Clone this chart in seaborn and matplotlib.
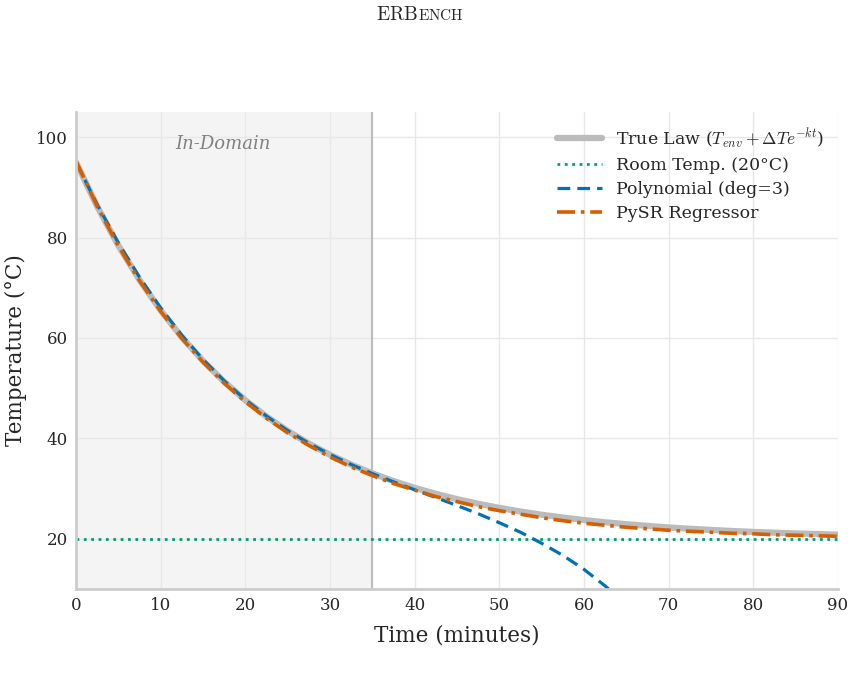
import pandas as pd
import seaborn as sns
import matplotlib
matplotlib.use("Agg")
import matplotlib.pyplot as plt

# 시간 축 (분), 2.5분 간격
time_min = [0, 2.5, 5, 7.5, 10, 12.5, 15, 17.5, 20, 22.5, 25, 27.5, 30, 32.5, 35,
            37.5, 40, 42.5, 45, 47.5, 50, 52.5, 55, 57.5, 60, 62.5, 65, 67.5, 70,
            72.5, 75, 77.5, 80, 82.5, 85, 87.5, 90]

true_law = [95.0, 86.19, 78.41, 71.55, 65.49, 60.15, 55.43, 51.27, 47.59, 44.35,
            41.49, 38.96, 36.73, 34.77, 33.03, 31.50, 30.15, 28.96, 27.90, 26.98,
            26.16, 25.43, 24.79, 24.23, 23.73, 23.29, 22.91, 22.57, 22.26, 22.00,
            21.76, 21.55, 21.37, 21.21, 21.07, 20.94, 20.83]

pysr = [95.2, 86.2, 78.3, 71.4, 65.3, 59.9, 55.2, 51.0, 47.3, 44.0,
        41.1, 38.6, 36.3, 34.3, 32.6, 31.0, 29.7, 28.4, 27.4, 26.4,
        25.6, 24.9, 24.2, 23.6, 23.1, 22.7, 22.3, 22.0, 21.7, 21.5,
        21.3, 21.1, 21.0, 20.8, 20.7, 20.6, 20.5]

poly_time = [0, 2.5, 5, 7.5, 10, 12.5, 15, 17.5, 20, 22.5, 25, 27.5, 30, 32.5, 35,
             37.5, 40, 42.5, 45, 47.5, 50, 52.5, 55, 57.5, 60, 62.5, 65]
poly = [95.0, 86.55, 78.93, 72.09, 65.98, 60.53, 55.71, 51.46, 47.71, 44.43,
        41.54, 39.02, 36.79, 34.79, 32.99, 31.34, 29.76, 28.21, 26.63, 24.99,
        23.2, 21.3, 19.1, 16.7, 13.9, 10.6, 6.9]

room_temp = 20
domain_end = 35

# 스타일 설정
sns.set_theme(style="whitegrid")
plt.rcParams["font.family"] = ["DejaVu Serif"]
plt.rcParams["mathtext.fontset"] = "cm"

fig = plt.figure(figsize=(8.62, 6.74), dpi=100)
ax = fig.add_axes([0.0882, 0.1261, 0.884, 0.7077])

# 학습 구간 음영
ax.axvspan(0, domain_end, color="#f4f4f4", zorder=0)
ax.axvline(domain_end, color="#bdbdbd", lw=1.5, zorder=1)
ax.text(17.4, 98.6, "In-Domain", style="italic", color="#808080", fontsize=13,
        ha="center", va="center")

df_true = pd.DataFrame({"t": time_min, "T": true_law})
df_pysr = pd.DataFrame({"t": time_min, "T": pysr})
df_poly = pd.DataFrame({"t": poly_time, "T": poly})

sns.lineplot(data=df_true, x="t", y="T", ax=ax, color="#bbbbbb", lw=4.5,
             label=r"True Law ($T_{env} + \Delta T e^{-kt}$)")
ax.axhline(room_temp, color="#009E73", lw=2, ls=":", label="Room Temp. (20°C)")
sns.lineplot(data=df_poly, x="t", y="T", ax=ax, color="#0072B2", lw=2.3,
             ls=(0, (4, 2.2)), label="Polynomial (deg=3)")
sns.lineplot(data=df_pysr, x="t", y="T", ax=ax, color="#D55E00", lw=2.6,
             ls=(0, (5, 1.6, 1, 1.6)), label="PySR Regressor")

ax.set_xlim(0, 90)
ax.set_ylim(10, 105)
ax.set_xticks(range(0, 91, 10))
ax.set_yticks([20, 40, 60, 80, 100])
ax.tick_params(labelsize=12, length=0, pad=6)
ax.set_xlabel("Time (minutes)", fontsize=15.5, labelpad=7)
ax.set_ylabel("Temperature (°C)", fontsize=15.5, labelpad=6)
ax.grid(color="#e8e8e8", lw=1)

for s in ["top", "right"]:
    ax.spines[s].set_visible(False)
for s in ["left", "bottom"]:
    ax.spines[s].set_color("#cccccc")
    ax.spines[s].set_linewidth(2)

ax.legend(loc="upper right", frameon=False, fontsize=12.5, handlelength=2.6,
          borderaxespad=0.1, labelspacing=0.42, borderpad=0.7)

# 제목 (small caps 흉내)
fig.text(0.485, 0.970, r"$\mathrm{ERB}$", ha="right", va="baseline", fontsize=14)
fig.text(0.485, 0.970, r"$\mathrm{ENCH}$", ha="left", va="baseline", fontsize=11)

fig.savefig("out.png", dpi=100)
